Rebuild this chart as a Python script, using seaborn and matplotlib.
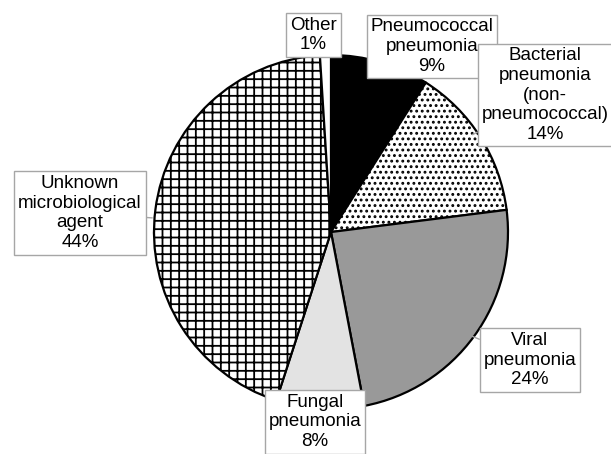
import matplotlib
matplotlib.use("Agg")
import matplotlib.pyplot as plt
import seaborn as sns

sns.set_theme(style="white")
plt.rcParams['font.family'] = ['Liberation Sans', 'DejaVu Sans']
plt.rcParams['hatch.linewidth'] = 1.3

# data
labels = ["Pneumococcal\npneumonia", "Bacterial\npneumonia\n(non-\npneumococcal)",
          "Viral\npneumonia", "Fungal\npneumonia", "Unknown\nmicrobiological\nagent", "Other"]
shares = [9, 14, 24, 8, 44, 1]

colors = ["black", "white", "#999999", "#e3e3e3", "white", "white"]
hatches = [None, "...", None, None, "++", None]

# label box centres and callout tips (axes data units, pie radius = 1)
text_pos = [(0.571, 1.048), (1.209, 0.774), (1.124, -0.723),
            (-0.090, -1.073), (-1.418, 0.107), (-0.099, 1.113)]
tips = [None, (0.80, 0.55), (0.80, -0.59), None, (-1.01, 0.08), None]

fig = plt.figure(figsize=(6.11, 4.54), dpi=100)
ax = fig.add_axes([0, 0, 1, 1])

wedges, _ = ax.pie(shares, colors=colors, hatch=hatches, startangle=90,
                   counterclock=False, radius=1,
                   wedgeprops=dict(edgecolor="black", linewidth=1.6))

box = dict(boxstyle="square,pad=0.2", fc="white", ec="#a6a6a6", lw=1)
for lab, val, pos, tip in zip(labels, shares, text_pos, tips):
    txt = f"{lab}\n{val}%"
    if tip is None:
        ax.text(pos[0], pos[1], txt, ha="center", va="center", fontsize=13.5,
                color="black", linespacing=1.2, bbox=box, zorder=5)
    else:
        ax.annotate(txt, xy=tip, xytext=pos, ha="center", va="center",
                    fontsize=13.5, color="black", linespacing=1.2, bbox=box, zorder=5,
                    arrowprops=dict(arrowstyle="-", color="#a6a6a6", lw=1,
                                    shrinkA=0, shrinkB=0))

ax.set_xlim(-1.870, 1.582)
ax.set_ylim(-1.254, 1.311)
ax.set_aspect("auto")
ax.axis("off")

fig.savefig("out.png", dpi=100)
